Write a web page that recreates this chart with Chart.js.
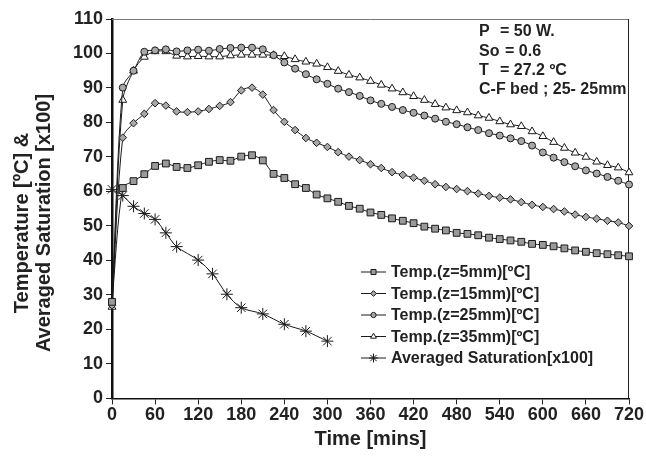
<!DOCTYPE html>
<html>
<head>
<meta charset="utf-8">
<script src="https://cdn.jsdelivr.net/npm/chart.js@4.4.0/dist/chart.umd.min.js"></script>
<style>
    html, body { margin: 0; padding: 0; background: #fff; }
    #wrap { width: 646px; height: 459px; position: relative; }
</style>
</head>
<body>
<div id="wrap"><canvas id="tempChart"></canvas></div>
<script>

// time axis (mins) for the temperature probes
const minutes = [0, 15, 30, 45, 60, 75, 90, 105, 120, 135, 150, 165, 180, 195, 210, 225, 240,
    255, 270, 285, 300, 315, 330, 345, 360, 375, 390, 405, 420, 435, 450, 465, 480, 495, 510,
    525, 540, 555, 570, 585, 600, 615, 630, 645, 660, 675, 690, 705, 720];

const temp5 = [28.0, 61.0, 63.0, 65.0, 67.4, 68.1, 67.1, 66.8, 67.6, 68.6, 69.1, 68.9, 70.1, 70.5,
    69.0, 65.1, 63.9, 62.1, 61.0, 59.1, 58.0, 57.0, 55.8, 55.0, 53.9, 53.2, 52.2, 51.5, 50.8, 49.8,
    49.2, 48.7, 48.0, 47.7, 47.3, 46.6, 46.2, 45.8, 45.4, 44.8, 44.5, 44.1, 43.5, 42.9, 42.5, 42.1,
    41.8, 41.5, 41.2];

const temp15 = [27.0, 75.6, 79.8, 82.5, 85.6, 84.9, 83.2, 83.0, 83.2, 83.9, 84.8, 85.9, 89.3, 90.1,
    88.1, 83.6, 80.2, 77.8, 75.5, 74.1, 72.9, 71.4, 70.1, 69.1, 67.9, 66.8, 65.6, 64.8, 64.0, 63.1,
    62.1, 61.3, 60.7, 60.1, 59.4, 58.7, 58.2, 57.7, 56.9, 56.1, 55.5, 54.9, 54.2, 53.3, 52.6, 52.1,
    51.5, 51.0, 50.0];

const temp25 = [28.0, 90.1, 95.0, 100.5, 100.9, 101.2, 100.6, 100.9, 101.1, 100.8, 101.3, 101.6,
    101.7, 101.7, 101.2, 99.5, 97.4, 95.6, 94.0, 92.5, 91.2, 89.8, 88.8, 87.7, 86.4, 85.4, 84.5,
    83.6, 82.8, 82.0, 81.1, 80.2, 79.5, 78.6, 77.8, 76.9, 76.2, 75.4, 74.6, 73.3, 71.3, 69.8, 68.5,
    67.3, 66.1, 65.2, 64.2, 63.1, 62.0];

const temp35 = [26.5, 86.5, 95.0, 99.0, 100.6, 100.6, 99.3, 99.1, 99.2, 99.1, 99.1, 99.4, 99.6,
    99.6, 99.6, 99.5, 99.2, 98.3, 97.6, 97.0, 96.0, 94.9, 93.8, 93.0, 92.0, 90.9, 89.8, 88.7, 87.6,
    86.5, 85.3, 84.3, 83.5, 82.9, 82.0, 81.3, 80.3, 79.4, 78.9, 77.4, 76.0, 74.3, 72.6, 71.2, 70.0,
    68.6, 67.6, 66.9, 65.5];

// saturation was sampled on its own schedule
const satMinutes = [0, 15, 30, 45, 60, 75, 90, 120, 140, 160, 180, 210, 240, 270, 300];
const saturation = [60.6, 58.8, 55.7, 53.6, 51.9, 48.0, 44.0, 40.1, 36.1, 30.2, 26.3, 24.5, 21.5,
    19.5, 16.6];

// run conditions: name, value, x of the value column
const notes = [
    ["P", "= 50 W.", 500],
    ["So", "= 0.6", 505],
    ["T", "= 27.2 ºC", 500],
    ["C-F bed ; 25- 25mm", "", 0]
];

const FONT = "'Liberation Sans', Arial, sans-serif";


function toPoints(xs, ys) {
    return xs.map(function (x, i) {
        return { x: x, y: ys[i] };
    });
}


function series(label, xs, ys, style, radius, fill) {
    return {
        label: label,
        data: toPoints(xs, ys),
        borderColor: "#1a1a1a",
        borderWidth: 1,
        backgroundColor: fill,
        pointStyle: style,
        pointRadius: radius,
        pointBorderWidth: 1,
        pointBorderColor: "#1a1a1a",
        pointBackgroundColor: fill,
        tension: 0.3,
        clip: 10
    };
}


// frame, axis title, notes and the legend box inside the plot
const decorations = {
    id: "decorations",

    beforeDatasetsDraw: function (chart) {
        const ctx = chart.ctx;
        const a = chart.chartArea;

        ctx.save();
        ctx.lineWidth = 1;
        ctx.strokeStyle = "#777";
        ctx.beginPath();
        ctx.moveTo(a.left, a.top + 0.5);
        ctx.lineTo(a.right, a.top + 0.5);
        ctx.stroke();
        ctx.strokeStyle = "#222";
        ctx.beginPath();
        ctx.moveTo(a.right - 0.5, a.top);
        ctx.lineTo(a.right - 0.5, a.bottom);
        ctx.stroke();
        ctx.restore();
    },

    afterDraw: function (chart) {
        const ctx = chart.ctx;

        ctx.save();
        ctx.fillStyle = "#222";

        // y title, two rotated lines
        ctx.font = "bold 20px " + FONT;
        ctx.textAlign = "center";
        ctx.textBaseline = "middle";
        ctx.translate(22, 223);
        ctx.rotate(-Math.PI / 2);
        ctx.fillText("Temperature [ºC] &", 0, 0);
        ctx.fillText("Averaged Saturation [x100]", 0, 22);
        ctx.restore();

        // run conditions, top right
        ctx.save();
        ctx.fillStyle = "#222";
        ctx.font = "bold 16px " + FONT;
        ctx.textBaseline = "middle";
        ctx.textAlign = "left";
        notes.forEach(function (n, i) {
            const y = 32 + i * 19.3;
            ctx.fillText(n[0], 479, y);
            if (n[1]) ctx.fillText(n[1], n[2], y);
        });

        // legend
        chart.data.datasets.forEach(function (ds, i) {
            const y = 272 + i * 21.5;
            ctx.strokeStyle = ds.borderColor;
            ctx.lineWidth = 1;
            ctx.beginPath();
            ctx.moveTo(361, y);
            ctx.lineTo(386, y);
            ctx.stroke();

            ctx.fillStyle = ds.pointBackgroundColor;
            ctx.strokeStyle = ds.pointBorderColor;
            Chart.helpers.drawPoint(ctx, {
                pointStyle: ds.pointStyle,
                radius: ds.pointRadius * 0.75,
                borderWidth: 1,
                rotation: 0
            }, 373.5, y);

            ctx.fillStyle = "#222";
            ctx.fillText(ds.label, 391, y + 1);
        });
        ctx.restore();
    }
};


new Chart(
    document.getElementById("tempChart"),
    {
        type: "line",

        data: {
            datasets: [
                series("Temp.(z=5mm)[ºC]", minutes, temp5, "rect", 4.8, "#9a9a9a"),
                series("Temp.(z=15mm)[ºC]", minutes, temp15, "rectRot", 3.8, "#a8a8a8"),
                series("Temp.(z=25mm)[ºC]", minutes, temp25, "circle", 3.5, "#a8a8a8"),
                series("Temp.(z=35mm)[ºC]", minutes, temp35, "triangle", 4.5, "#ffffff"),
                series("Averaged Saturation[x100]", satMinutes, saturation, "star", 6, "#1a1a1a")
            ]
        },

        options: {
            responsive: true,
            maintainAspectRatio: false,
            animation: false,

            layout: {
                padding: { left: 0, top: 19, right: 17, bottom: 6 }
            },

            plugins: {
                legend: { display: false },
                tooltip: { enabled: false }
            },

            scales: {
                x: {
                    type: "linear",
                    min: 0,
                    max: 720,
                    ticks: {
                        stepSize: 60,
                        padding: 0,
                        color: "#222",
                        font: { family: FONT, size: 18, weight: "bold" }
                    },
                    grid: {
                        drawOnChartArea: false,
                        tickLength: 6,
                        color: "#222"
                    },
                    border: { color: "#111", width: 1.5 },
                    title: {
                        display: true,
                        text: "Time [mins]",
                        color: "#222",
                        padding: { top: 1, bottom: 2 },
                        font: { family: FONT, size: 20, weight: "bold" }
                    }
                },
                y: {
                    min: 0,
                    max: 110,
                    afterFit: function (scale) {
                        scale.width = 112;
                    },
                    ticks: {
                        stepSize: 10,
                        padding: 3,
                        color: "#222",
                        font: { family: FONT, size: 18, weight: "bold" }
                    },
                    grid: {
                        drawOnChartArea: false,
                        tickLength: 6,
                        color: "#222"
                    },
                    border: { color: "#111", width: 2.5 }
                }
            }
        },

        plugins: [decorations]
    }
);

</script>
</body>
</html>
